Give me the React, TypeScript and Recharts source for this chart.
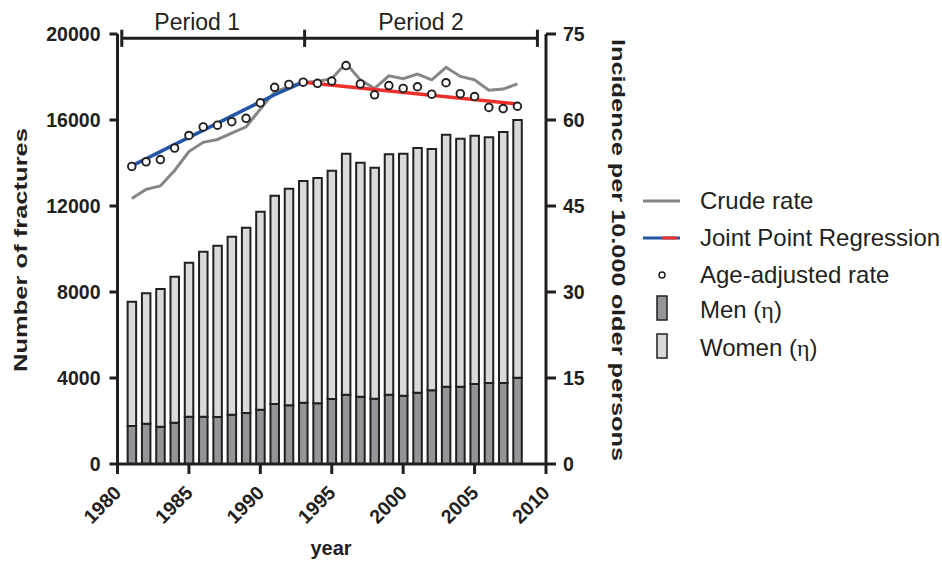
import React from 'react';
import { ComposedChart, Bar, Line, XAxis, YAxis, ReferenceLine } from 'recharts';

const years = [1981, 1982, 1983, 1984, 1985, 1986, 1987, 1988, 1989, 1990, 1991, 1992, 1993, 1994, 1995, 1996, 1997, 1998, 1999, 2000, 2001, 2002, 2003, 2004, 2005, 2006, 2007, 2008];
const men = [1767, 1876, 1736, 1922, 2202, 2202, 2190, 2295, 2372, 2527, 2791, 2729, 2853, 2822, 3023, 3224, 3131, 3038, 3224, 3178, 3318, 3426, 3597, 3597, 3721, 3767, 3767, 4015];
const women = [5782, 6062, 6403, 6790, 7161, 7673, 7964, 8277, 8619, 9208, 9688, 10076, 10309, 10480, 10620, 11209, 10883, 10743, 11180, 11255, 11379, 11225, 11719, 11533, 11549, 11428, 11674, 11985];
const crudeRate = [46.3, 47.9, 48.5, 51.2, 54.5, 56.1, 56.6, 57.7, 58.8, 61.9, 64.9, 65.8, 66.6, 66.7, 67.2, 69.9, 67.0, 65.5, 67.7, 67.2, 68.0, 67.0, 69.2, 67.6, 67.0, 65.2, 65.4, 66.3];
const ageAdjusted = [51.9, 52.7, 53.1, 55.1, 57.3, 58.8, 59.1, 59.7, 60.3, 63.0, 65.7, 66.2, 66.6, 66.4, 66.8, 69.5, 66.3, 64.4, 66.0, 65.5, 65.8, 64.5, 66.5, 64.6, 64.1, 62.2, 62.0, 62.4];

const jprPeriod1Years = [1981, 1991, 1993];
const jprPeriod1Values = [52.0, 64.4, 66.6];
const jprPeriod2Years = [1993, 2008];
const jprPeriod2Values = [66.6, 62.8];

const xTicks = [1980, 1985, 1990, 1995, 2000, 2005, 2010];
const leftTicks = [0, 4000, 8000, 12000, 16000, 20000];
const rightTicks = [0, 15, 30, 45, 60, 75];

const periodBreaks = [1980.3, 1993.1, 2009.4];
const periodLabels = ['Period 1', 'Period 2'];
const periodY = 19800;

const data = years.map((y, i) => ({
  year: y,
  men: men[i],
  women: women[i],
  crude: crudeRate[i],
  adjusted: ageAdjusted[i],
}));
const jpr1 = jprPeriod1Years.map((y, i) => ({ year: y, jpr: jprPeriod1Values[i] }));
const jpr2 = jprPeriod2Years.map((y, i) => ({ year: y, jpr: jprPeriod2Values[i] }));

const INK = '#231f20';
const FONT = '"Liberation Sans", Arial, Helvetica, sans-serif';
const MEN_FILL = '#939598';
const WOMEN_FILL = '#d9dadb';
const CRUDE = '#858688';
const BLUE = '#2356a6';
const RED = '#ec2f2a';

const XTick = (props: any) => {
  const { x, y, payload } = props;
  const ax = x + 5;
  const ay = y + 18;
  return (
    <text x={ax} y={ay} transform={`rotate(-45 ${ax} ${ay})`} textAnchor="end" fontSize={19.5} fontWeight="bold" fontFamily={FONT} fill={INK}>
      {payload.value}
    </text>
  );
};

const AdjDot = (props: any) => {
  const { cx, cy } = props;
  if (cx == null || cy == null) return null;
  return <circle cx={cx} cy={cy} r={3.8} fill="#ffffff" stroke={INK} strokeWidth={1.9} />;
};

const Titles = () => (
  <g fontFamily={FONT} fill={INK}>
    <text x={27} y={250} transform="rotate(-90 27 250)" textAnchor="middle" fontSize={18} fontWeight="bold" textLength={244} lengthAdjust="spacingAndGlyphs">
      Number of fractures
    </text>
    <text x={612} y={250} transform="rotate(90 612 250)" textAnchor="middle" fontSize={18} fontWeight="bold" textLength={422} lengthAdjust="spacingAndGlyphs">
      Incidence per 10.000 older persons
    </text>
    <text x={331} y={555} textAnchor="middle" fontSize={20} fontWeight="bold">year</text>
  </g>
);

const LegendBlock = () => {
  const tx = 700;
  const fs = 24;
  return (
    <g fontFamily={FONT} fill={INK} fontSize={fs}>
      <line x1={643} x2={680} y1={201} y2={201} stroke={CRUDE} strokeWidth={3} />
      <text x={tx} y={209}>Crude rate</text>
      <line x1={643} x2={680} y1={238} y2={238} stroke={BLUE} strokeWidth={3} />
      <line x1={662} x2={677} y1={238} y2={238} stroke={RED} strokeWidth={3} />
      <text x={tx} y={246}>Joint Point Regression</text>
      <circle cx={662} cy={275} r={3} fill="#fff" stroke={INK} strokeWidth={1.5} />
      <text x={tx} y={283}>Age-adjusted rate</text>
      <rect x={657} y={296} width={10} height={24} fill={MEN_FILL} stroke={INK} strokeWidth={1.5} />
      <text x={tx} y={318}>Men (<tspan fontFamily='"Liberation Serif", "Times New Roman", serif'>η</tspan>)</text>
      <rect x={657} y={334} width={10} height={24} fill={WOMEN_FILL} stroke={INK} strokeWidth={1.5} />
      <text x={tx} y={356}>Women (<tspan fontFamily='"Liberation Serif", "Times New Roman", serif'>η</tspan>)</text>
    </g>
  );
};

export default function App() {
  const tickStyle = { fontSize: 19.5, fontWeight: 'bold', fill: INK, fontFamily: FONT };
  return (
    <div style={{ position: 'absolute', left: 0, top: 0, width: 942, height: 563, background: '#fff' }}>
      <ComposedChart width={942} height={563} data={data} margin={{ top: 34, right: 336, bottom: 0, left: 0 }}>
        <XAxis
          dataKey="year"
          type="number"
          domain={[1980, 2010]}
          ticks={xTicks}
          interval={0}
          height={99}
          tickSize={10}
          tickMargin={2}
          axisLine={{ stroke: INK, strokeWidth: 3 }}
          tickLine={{ stroke: INK, strokeWidth: 3 }}
          tick={<XTick />}
        />
        <YAxis
          yAxisId="left"
          orientation="left"
          width={117.5}
          domain={[0, 20000]}
          ticks={leftTicks}
          interval={0}
          tickSize={8}
          tickMargin={9}
          axisLine={{ stroke: INK, strokeWidth: 3 }}
          tickLine={{ stroke: INK, strokeWidth: 3 }}
          tick={tickStyle}
        />
        <YAxis
          yAxisId="right"
          orientation="right"
          width={60}
          domain={[0, 75]}
          ticks={rightTicks}
          interval={0}
          tickSize={10}
          tickMargin={7}
          axisLine={{ stroke: INK, strokeWidth: 3 }}
          tickLine={{ stroke: INK, strokeWidth: 3 }}
          tick={tickStyle}
        />
        <Bar yAxisId="left" dataKey="men" stackId="a" barSize={8.5} fill={MEN_FILL} stroke={INK} strokeWidth={2} isAnimationActive={false} />
        <Bar yAxisId="left" dataKey="women" stackId="a" barSize={8.5} fill={WOMEN_FILL} stroke={INK} strokeWidth={2} isAnimationActive={false} />
        <Line yAxisId="right" dataKey="crude" type="linear" stroke={CRUDE} strokeWidth={3} dot={false} isAnimationActive={false} />
        <Line yAxisId="right" data={jpr1} dataKey="jpr" type="linear" stroke={BLUE} strokeWidth={3.5} dot={false} isAnimationActive={false} />
        <Line yAxisId="right" data={jpr2} dataKey="jpr" type="linear" stroke={RED} strokeWidth={3.5} dot={false} isAnimationActive={false} />
        <Line yAxisId="right" dataKey="adjusted" type="linear" stroke="none" dot={<AdjDot />} activeDot={false} isAnimationActive={false} />
        <ReferenceLine
          yAxisId="left"
          segment={[{ x: periodBreaks[0], y: periodY }, { x: periodBreaks[1], y: periodY }]}
          stroke={INK}
          strokeWidth={3}
          ifOverflow="visible"
          label={{ value: periodLabels[0], position: 'top', offset: 8, dx: -16, fontSize: 23, fill: INK, fontFamily: FONT }}
        />
        <ReferenceLine
          yAxisId="left"
          segment={[{ x: periodBreaks[1], y: periodY }, { x: periodBreaks[2], y: periodY }]}
          stroke={INK}
          strokeWidth={3}
          ifOverflow="visible"
          label={{ value: periodLabels[1], position: 'top', offset: 8, fontSize: 23, fill: INK, fontFamily: FONT }}
        />
        {periodBreaks.map((b) => (
          <ReferenceLine
            key={b}
            yAxisId="left"
            segment={[{ x: b, y: 19400 }, { x: b, y: 20200 }]}
            stroke={INK}
            strokeWidth={3}
            ifOverflow="visible"
          />
        ))}
        <Titles />
        <LegendBlock />
      </ComposedChart>
    </div>
  );
}
